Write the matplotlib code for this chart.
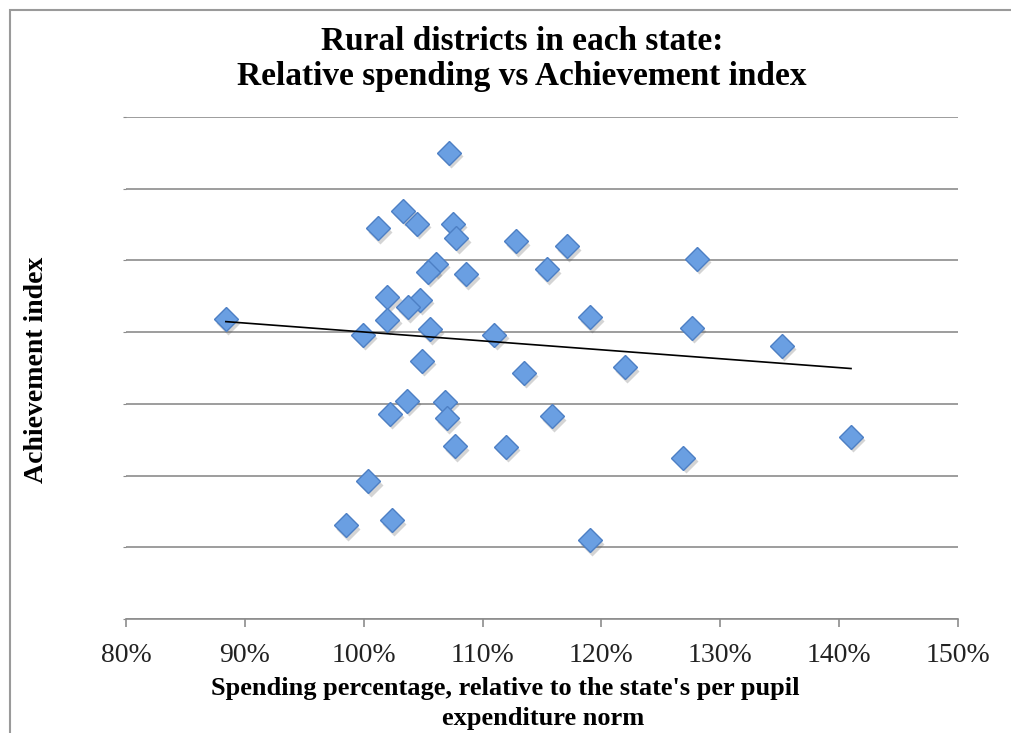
import numpy as np
import matplotlib.pyplot as plt
import matplotlib.transforms as mtransforms
from matplotlib.ticker import FuncFormatter
from matplotlib.patches import Rectangle

# spending relative to state norm (%), achievement index (grid units)
spending = [88.4, 107.2, 101.2, 103.3, 104.5, 107.5, 107.8, 112.8, 117.1, 115.4,
            128.0, 106.1, 105.4, 108.6, 102.0, 104.7, 103.7, 102.0, 105.6, 99.9,
            111.0, 119.0, 127.6, 135.2, 104.9, 113.5, 122.0, 106.8, 103.6, 102.2,
            107.0, 115.8, 107.7, 112.0, 126.9, 141.0, 100.4, 98.5, 102.4, 119.0]
achievement = [4.18, 6.50, 5.45, 5.69, 5.51, 5.51, 5.31, 5.27, 5.20, 4.88,
               5.02, 4.95, 4.84, 4.81, 4.49, 4.45, 4.35, 4.17, 4.04, 3.96,
               3.96, 4.21, 4.06, 3.81, 3.60, 3.43, 3.51, 3.03, 3.04, 2.86,
               2.80, 2.83, 2.41, 2.40, 2.25, 2.54, 1.92, 1.31, 1.38, 1.10]
x_ticks = [80, 90, 100, 110, 120, 130, 140, 150]

x = np.array(spending)
y = np.array(achievement)

fig = plt.figure(figsize=(10.11, 7.33), dpi=100)
ax = fig.add_axes([126/1011, 1-619/733, (958-126)/1011, (619-117)/733])

# gray frame around the chart
fig.patches.append(Rectangle((10/1011, -0.1), 1.1, 1 - 10/733 + 0.1,
                             transform=fig.transFigure, fill=False,
                             edgecolor='#9a9a9a', linewidth=1.5))

ax.set_xlim(80, 150)
ax.set_ylim(0, 7)
ax.set_xticks(x_ticks)
ax.xaxis.set_major_formatter(FuncFormatter(lambda v, p: '%d%%' % v))
ax.set_yticks(range(0, 8))
ax.set_yticklabels([])
ax.grid(axis='y', color='#8c8c8c', linewidth=1.2)
ax.set_axisbelow(True)
for s in ['top', 'right', 'left']:
    ax.spines[s].set_visible(False)
ax.spines['bottom'].set_color('#8c8c8c')
ax.spines['bottom'].set_linewidth(1.2)
ax.tick_params(axis='x', direction='out', length=6, color='#8c8c8c', width=1.2,
               labelsize=20, pad=11, labelcolor='#222222')
ax.tick_params(axis='y', length=2, color='#8c8c8c')
for lab in ax.get_xticklabels():
    lab.set_fontfamily('Liberation Serif')

# shadow then markers
shadow = mtransforms.offset_copy(ax.transData, fig=fig, x=1.5, y=-2.5, units='points')
ax.plot(x, y, 'D', ms=12, color='#555555', alpha=0.25, mec='none',
        transform=shadow, zorder=2)
ax.plot(x, y, 'D', ms=12, mfc='#6a9fe2', mec='#4d7fc4', mew=1.0, zorder=3)

# linear trend line
m, b = np.polyfit(x, y, 1)
xs = np.array([x.min(), x.max()])
ax.plot(xs, m * xs + b, color='black', linewidth=1.2, zorder=4)

fig.text(522/1011, 1-50/733, 'Rural districts in each state:',
         ha='center', va='baseline', fontsize=24, fontweight='bold',
         family='Liberation Serif')
fig.text(522/1011, 1-85/733, 'Relative spending vs Achievement index',
         ha='center', va='baseline', fontsize=24, fontweight='bold',
         family='Liberation Serif')
fig.text(505/1011, 1-689/733, "Spending percentage, relative to the state's per pupil",
         ha='center', va='center', fontsize=19, fontweight='bold',
         family='Liberation Serif')
fig.text(543/1011, 1-718/733, "expenditure norm",
         ha='center', va='center', fontsize=19, fontweight='bold',
         family='Liberation Serif')
fig.text(37/1011, 1-370/733, 'Achievement index', rotation=90,
         ha='center', va='center', fontsize=20, fontweight='bold',
         family='Liberation Serif')

fig.savefig('out.png', dpi=100)
